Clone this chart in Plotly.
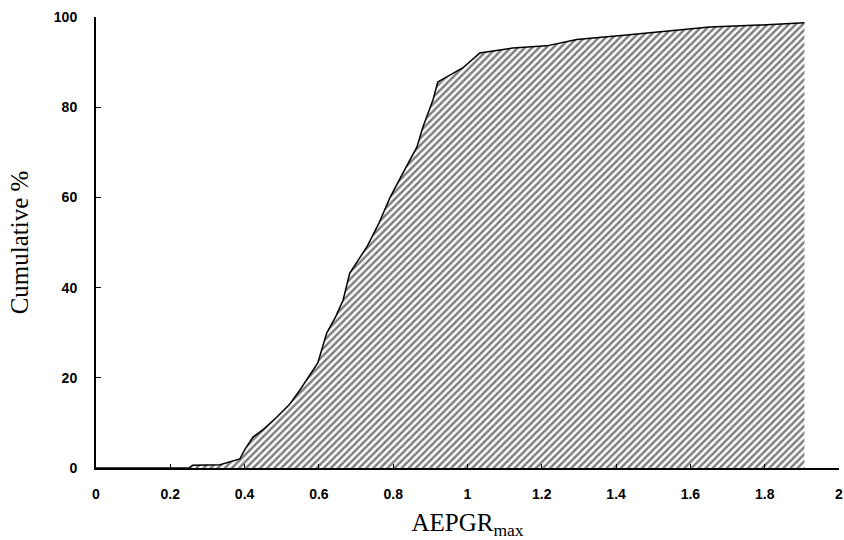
import plotly.graph_objects as go

# Cumulative distribution of AEPGRmax
aepgr = [0.0, 0.25, 0.26, 0.334, 0.387, 0.40, 0.423, 0.45, 0.487, 0.52, 0.549,
         0.575, 0.597, 0.621, 0.645, 0.665, 0.683, 0.705, 0.729, 0.76, 0.791,
         0.826, 0.864, 0.88, 0.907, 0.92, 0.944, 0.987, 1.033, 1.122, 1.213,
         1.294, 1.428, 1.517, 1.652, 1.786, 1.907]
cum_pct = [0.0, 0.0, 0.6, 0.7, 2.0, 4.0, 6.9, 8.5, 11.3, 14.0, 17.3,
           20.5, 23.3, 29.9, 33.5, 37.2, 43.2, 46.0, 49.0, 54.0, 59.9,
           65.4, 71.2, 75.6, 81.6, 85.6, 86.7, 88.7, 92.0, 93.1, 93.6,
           95.0, 96.0, 96.7, 97.8, 98.2, 98.7]

x_tickvals = [0, 0.2, 0.4, 0.6, 0.8, 1.0, 1.2, 1.4, 1.6, 1.8, 2.0]
x_ticktext = ["0", "0.2", "0.4", "0.6", "0.8", "1", "1.2", "1.4", "1.6", "1.8", "2"]
y_tickvals = [0, 20, 40, 60, 80, 100]
y_ticktext = ["0", "20", "40", "60", "80", "100"]

fig = go.Figure()
fig.add_trace(go.Scatter(
    x=aepgr, y=cum_pct, mode="lines", fill="tozeroy",
    line=dict(color="black", width=1.5),
    fillcolor="white",
    fillpattern=dict(shape="/", size=5, solidity=0.5, fgcolor="black", bgcolor="white"),
    showlegend=False, hoverinfo="x+y",
))

tick_font = dict(family="Liberation Sans, Arial, sans-serif", size=14, color="black", weight="bold")
title_font = dict(family="Liberation Serif, Times New Roman, serif", size=25, color="black")

fig.update_layout(
    width=844, height=540,
    margin=dict(l=96, r=5, t=17, b=72, autoexpand=False),
    paper_bgcolor="white", plot_bgcolor="white",
    xaxis=dict(
        range=[0, 2], tickvals=x_tickvals, ticktext=x_ticktext,
        showgrid=False, zeroline=False, showline=True, linecolor="black", linewidth=2,
        ticks="inside", ticklen=4, tickwidth=1, tickcolor="black",
        tickfont=tick_font, ticklabelstandoff=12,
        title=dict(text="AEPGR<sub>max</sub>", font=title_font, standoff=14),
    ),
    yaxis=dict(
        range=[0, 100], tickvals=y_tickvals, ticktext=y_ticktext,
        showgrid=False, zeroline=False, showline=True, linecolor="black", linewidth=2,
        ticks="inside", ticklen=5, tickwidth=1, tickcolor="black",
        tickfont=tick_font, ticklabelstandoff=14,
        title=dict(text="Cumulative %", font=title_font, standoff=18),
    ),
)

fig.write_html("out.html")
